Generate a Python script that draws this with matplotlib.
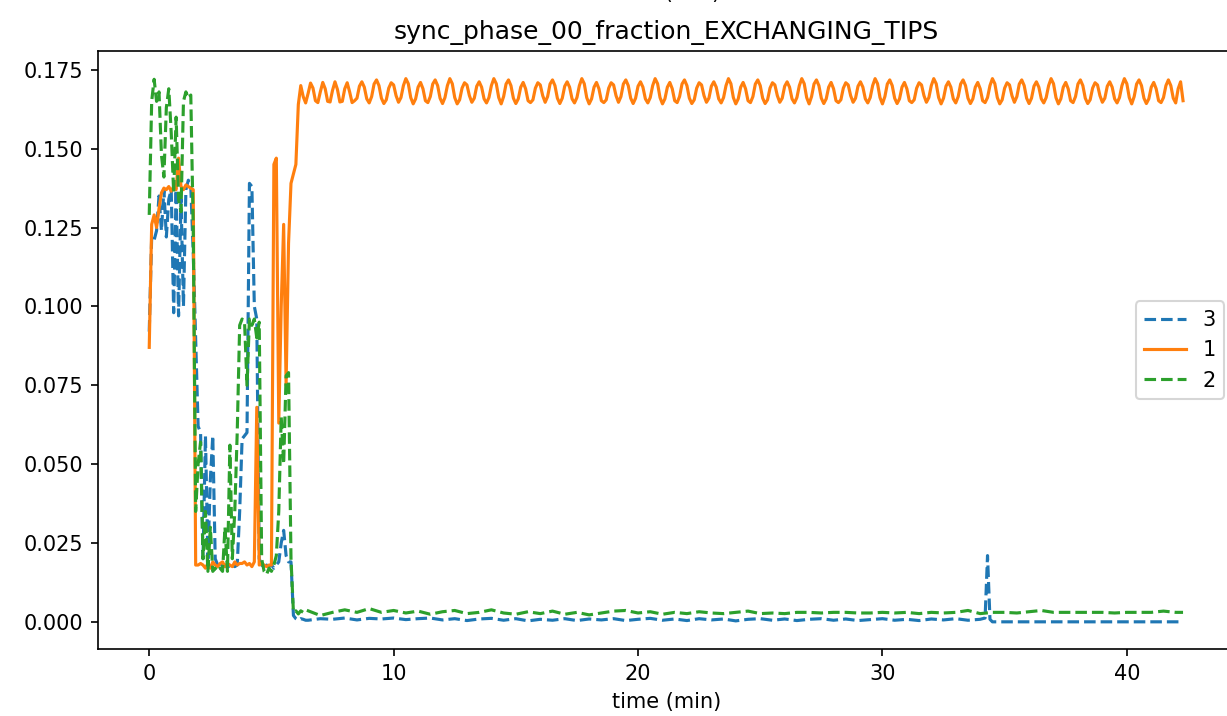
import numpy as np
import matplotlib
matplotlib.use('Agg')
from matplotlib import pyplot as plt

# series names in legend order
labels = ['3', '1', '2']

# first minutes, sampled every 0.1 min (0.0 .. 6.4)
t_early = np.round(np.arange(65) * 0.1, 1)

blue_early = [0.092, 0.122, 0.121, 0.124, 0.135, 0.124, 0.137, 0.122, 0.134, 0.137,
              0.098, 0.137, 0.097, 0.134, 0.100, 0.137, 0.140, 0.138, 0.117, 0.090,
              0.062, 0.060, 0.020, 0.059, 0.020, 0.045, 0.059, 0.020, 0.018, 0.017,
              0.018, 0.0175, 0.018, 0.017, 0.018, 0.0175, 0.018, 0.035, 0.058, 0.059,
              0.060, 0.139, 0.138, 0.100, 0.096, 0.020, 0.018, 0.017, 0.018, 0.0175,
              0.018, 0.017, 0.018, 0.019, 0.025, 0.029, 0.021, 0.019, 0.019, 0.002,
              0.001, 0.0005, 0.001, 0.0008, 0.0005]

orange_early = [0.087, 0.126, 0.129, 0.125, 0.131, 0.136, 0.1375, 0.137, 0.138, 0.1365,
                0.138, 0.137, 0.147, 0.138, 0.137, 0.1385, 0.138, 0.1375, 0.137, 0.018,
                0.018, 0.0185, 0.018, 0.017, 0.0185, 0.017, 0.019, 0.018, 0.0175, 0.0185,
                0.019, 0.0175, 0.0185, 0.018, 0.0175, 0.019, 0.018, 0.0185, 0.0185, 0.019,
                0.018, 0.0185, 0.0175, 0.019, 0.068, 0.018, 0.0185, 0.018, 0.0175, 0.018,
                0.018, 0.145, 0.147, 0.063, 0.100, 0.126, 0.075, 0.120, 0.139, 0.142,
                0.145, 0.164, 0.170, 0.1665, 0.1645]

green_early = [0.129, 0.165, 0.172, 0.165, 0.168, 0.148, 0.141, 0.163, 0.169, 0.155,
               0.136, 0.160, 0.134, 0.130, 0.165, 0.168, 0.166, 0.167, 0.125, 0.035,
               0.050, 0.057, 0.020, 0.035, 0.016, 0.030, 0.016, 0.017, 0.016, 0.017,
               0.016, 0.030, 0.016, 0.056, 0.020, 0.035, 0.060, 0.094, 0.096, 0.095,
               0.075, 0.096, 0.094, 0.096, 0.090, 0.095, 0.020, 0.016, 0.015, 0.017,
               0.016, 0.018, 0.021, 0.035, 0.065, 0.050, 0.078, 0.079, 0.020, 0.003,
               0.0035, 0.0025, 0.0035, 0.003, 0.0038]

# series 1 after it settles, every 0.1 min from 6.5 min to 42.3 min
orange_tail = [
    0.1675, 0.1708, 0.1692, 0.1652, 0.1646, 0.1680, 0.1710, 0.1690, 0.1650, 0.1648,
    0.1685, 0.1712, 0.1688, 0.1648, 0.1650, 0.1690, 0.1709, 0.1680, 0.1646, 0.1652,
    0.1660, 0.1698, 0.1712, 0.1695, 0.1658, 0.1645, 0.1665, 0.1705, 0.1718, 0.1700, 0.1660, 0.1643,
    0.1655, 0.1692, 0.1709, 0.1702, 0.1668, 0.1647, 0.1662, 0.1700, 0.1722, 0.1706, 0.1662, 0.1642,
    0.1658, 0.1695, 0.1710, 0.1690, 0.1652, 0.1646, 0.1665, 0.1705, 0.1718, 0.1700, 0.1660, 0.1643,
    0.1662, 0.1700, 0.1722, 0.1706, 0.1662, 0.1642, 0.1655, 0.1692, 0.1709, 0.1702, 0.1668, 0.1647,
    0.1660, 0.1698, 0.1712, 0.1695, 0.1658, 0.1645, 0.1662, 0.1700, 0.1722, 0.1706, 0.1662, 0.1642,
    0.1665, 0.1705, 0.1718, 0.1700, 0.1660, 0.1643, 0.1658, 0.1695, 0.1710, 0.1690, 0.1652, 0.1646,
    0.1655, 0.1692, 0.1709, 0.1702, 0.1668, 0.1647, 0.1665, 0.1705, 0.1718, 0.1700, 0.1660, 0.1643,
    0.1660, 0.1698, 0.1712, 0.1695, 0.1658, 0.1645, 0.1662, 0.1700, 0.1722, 0.1706, 0.1662, 0.1642,
    0.1658, 0.1695, 0.1710, 0.1690, 0.1652, 0.1646, 0.1655, 0.1692, 0.1709, 0.1702, 0.1668, 0.1647,
    0.1665, 0.1705, 0.1718, 0.1700, 0.1660, 0.1643, 0.1660, 0.1698, 0.1712, 0.1695, 0.1658, 0.1645,
    0.1662, 0.1700, 0.1722, 0.1706, 0.1662, 0.1642, 0.1658, 0.1695, 0.1710, 0.1690, 0.1652, 0.1646,
    0.1665, 0.1705, 0.1718, 0.1700, 0.1660, 0.1643, 0.1655, 0.1692, 0.1709, 0.1702, 0.1668, 0.1647,
    0.1660, 0.1698, 0.1712, 0.1695, 0.1658, 0.1645, 0.1662, 0.1700, 0.1722, 0.1706, 0.1662, 0.1642,
    0.1658, 0.1695, 0.1710, 0.1690, 0.1652, 0.1646, 0.1665, 0.1705, 0.1718, 0.1700, 0.1660, 0.1643,
    0.1655, 0.1692, 0.1709, 0.1702, 0.1668, 0.1647, 0.1660, 0.1698, 0.1712, 0.1695, 0.1658, 0.1645,
    0.1662, 0.1700, 0.1722, 0.1706, 0.1662, 0.1642, 0.1665, 0.1705, 0.1718, 0.1700, 0.1660, 0.1643,
    0.1658, 0.1695, 0.1710, 0.1690, 0.1652, 0.1646, 0.1655, 0.1692, 0.1709, 0.1702, 0.1668, 0.1647,
    0.1660, 0.1698, 0.1712, 0.1695, 0.1658, 0.1645, 0.1662, 0.1700, 0.1722, 0.1706, 0.1662, 0.1642,
    0.1665, 0.1705, 0.1718, 0.1700, 0.1660, 0.1643, 0.1658, 0.1695, 0.1710, 0.1690, 0.1652, 0.1646,
    0.1655, 0.1692, 0.1709, 0.1702, 0.1668, 0.1647, 0.1662, 0.1700, 0.1722, 0.1706, 0.1662, 0.1642,
    0.1660, 0.1698, 0.1712, 0.1695, 0.1658, 0.1645, 0.1665, 0.1705, 0.1718, 0.1700, 0.1660, 0.1643,
    0.1658, 0.1695, 0.1710, 0.1690, 0.1652, 0.1646, 0.1662, 0.1700, 0.1722, 0.1706, 0.1662, 0.1642,
    0.1655, 0.1692, 0.1709, 0.1702, 0.1668, 0.1647, 0.1665, 0.1705, 0.1718, 0.1700, 0.1660, 0.1643,
    0.1660, 0.1698, 0.1712, 0.1695, 0.1658, 0.1645, 0.1662, 0.1700, 0.1722, 0.1706, 0.1662, 0.1642,
    0.1658, 0.1695, 0.1710, 0.1690, 0.1652, 0.1646, 0.1665, 0.1705, 0.1718, 0.1700, 0.1660, 0.1643,
    0.1655, 0.1692, 0.1709, 0.1702, 0.1668, 0.1647, 0.1660, 0.1698, 0.1712, 0.1695, 0.1658, 0.1645,
    0.1662, 0.1700, 0.1722, 0.1706, 0.1662, 0.1642, 0.1665, 0.1705, 0.1718, 0.1700, 0.1660, 0.1643,
    0.1658, 0.1695, 0.1710, 0.1690, 0.1652, 0.1646, 0.1662, 0.1700, 0.1718, 0.1700, 0.1660, 0.1645,
    0.1690, 0.1712, 0.1652,
]
t_orange_tail = 6.5 + np.arange(len(orange_tail)) * 0.1

# series 3 and 2 after the drop, every 0.5 min from 6.5 to 42.0 min, then last sample
t_flat = np.append(6.5 + np.arange(72) * 0.5, 42.3)
blue_flat = [0.0005, 0.0010, 0.0008, 0.0012, 0.0006, 0.0011, 0.0009, 0.0012, 0.0007, 0.0010,
             0.0012, 0.0006, 0.0010, 0.0004, 0.0009, 0.0011, 0.0005, 0.0010, 0.0003, 0.0008,
             0.0005, 0.0010, 0.0004, 0.0009, 0.0006, 0.0010, 0.0004, 0.0008, 0.0011, 0.0005,
             0.0009, 0.0004, 0.0010, 0.0006, 0.0009, 0.0003, 0.0008, 0.0010, 0.0005, 0.0009,
             0.0004, 0.0008, 0.0010, 0.0005, 0.0009, 0.0004, 0.0007, 0.0010, 0.0005, 0.0008,
             0.0004, 0.0009, 0.0006, 0.0010, 0.0005, 0.0008, 0.0, 0.0, 0.0, 0.0,
             0.0, 0.0, 0.0, 0.0, 0.0, 0.0, 0.0, 0.0, 0.0, 0.0,
             0.0, 0.0, 0.0]
green_flat = [0.0035, 0.0020, 0.0030, 0.0038, 0.0030, 0.0042, 0.0030, 0.0036, 0.0028, 0.0034,
              0.0024, 0.0032, 0.0036, 0.0026, 0.0030, 0.0038, 0.0028, 0.0024, 0.0032, 0.0026,
              0.0034, 0.0024, 0.0030, 0.0022, 0.0028, 0.0034, 0.0036, 0.0028, 0.0032, 0.0024,
              0.0030, 0.0026, 0.0032, 0.0028, 0.0026, 0.0030, 0.0034, 0.0026, 0.0028, 0.0026,
              0.0030, 0.0030, 0.0028, 0.0030, 0.0030, 0.0028, 0.0028, 0.0030, 0.0028, 0.0030,
              0.0026, 0.0030, 0.0028, 0.0030, 0.0036, 0.0026, 0.0030, 0.0030, 0.0028, 0.0032,
              0.0036, 0.0030, 0.0030, 0.0030, 0.0030, 0.0030, 0.0028, 0.0030, 0.0030, 0.0030,
              0.0034, 0.0030, 0.0030]

# short spike of series 3 around 34.3 min
t_spike = [34.2, 34.3, 34.4]
blue_spike = [0.0012, 0.021, 0.0008]

t_blue = np.concatenate([t_early, t_flat, t_spike])
v_blue = np.concatenate([blue_early, blue_flat, blue_spike])
order = np.argsort(t_blue, kind='stable')
t_blue, v_blue = t_blue[order], v_blue[order]

t_orange = np.concatenate([t_early, t_orange_tail])
v_orange = np.concatenate([orange_early, orange_tail])

t_green = np.concatenate([t_early, t_flat])
v_green = np.concatenate([green_early, green_flat])

fig = plt.figure(figsize=(1227 / 150, 716 / 150), dpi=150)
# the picture is a crop: axes run a little past the right edge
ax = fig.add_axes([0.0795, 0.0936, 0.9268, 0.8345])
ax.spines['right'].set_visible(False)

ax.plot(t_blue, v_blue, '--', color='C0', label=labels[0])
ax.plot(t_orange, v_orange, '-', color='C1', label=labels[1])
ax.plot(t_green, v_green, '--', color='C2', label=labels[2])

ax.set_title('sync_phase_00_fraction_EXCHANGING_TIPS')
ax.set_xlabel('time (min)')
ax.legend(loc='center right')

# x label of the panel above, almost fully cut off
fig.text(0.5428, 1.0 + 0.5 / 716, 'time (min)', ha='center', va='baseline')

fig.savefig('out.png', dpi=150)
